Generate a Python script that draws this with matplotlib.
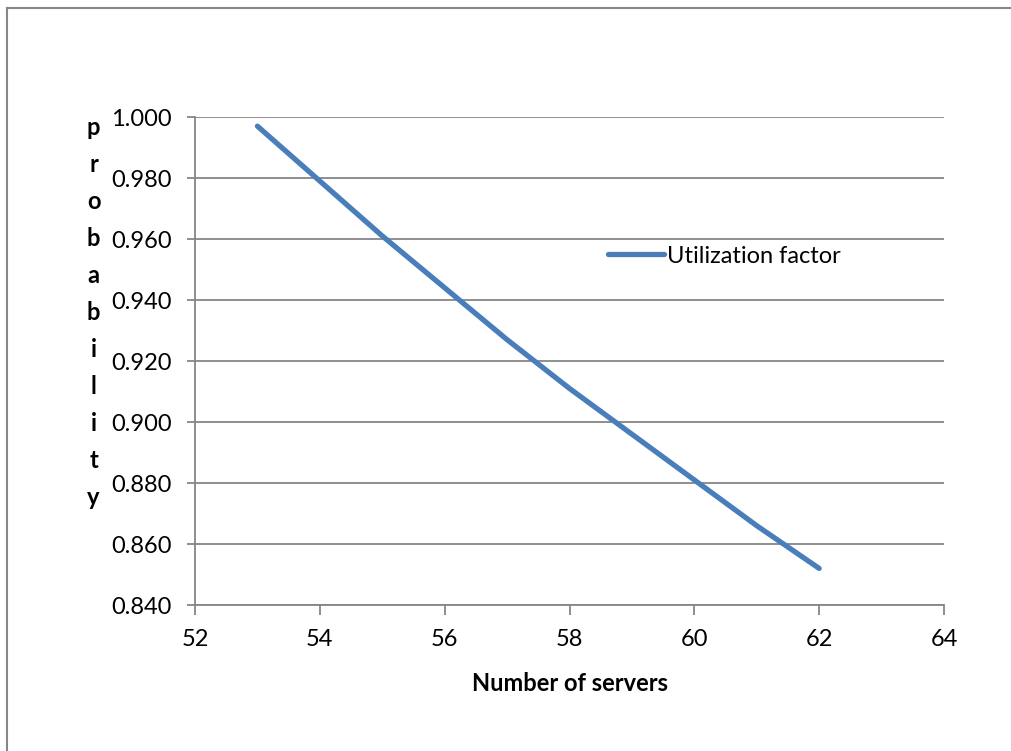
import matplotlib.pyplot as plt
from matplotlib.lines import Line2D
from matplotlib.ticker import FormatStrFormatter, MultipleLocator

# utilization factor vs number of servers
servers = [53, 54, 55, 56, 57, 58, 59, 60, 61, 62]
utilization = [0.997, 0.979, 0.961, 0.944, 0.927, 0.911, 0.896, 0.881, 0.866, 0.852]

x_ticks = [52, 54, 56, 58, 60, 62, 64]
series_name = 'Utilization factor'
x_title = 'Number of servers'
y_title = 'probability'

LINE_COLOR = '#4a7ebb'
GRID_COLOR = '#868686'
FS = 17

plt.rcParams['font.family'] = ['Lato', 'DejaVu Sans']

fig = plt.figure(figsize=(10.12, 7.51), dpi=100)
ax = fig.add_axes([0.1927, 0.1944, 0.7401, 0.6498])

ax.plot(servers, utilization, color=LINE_COLOR, lw=3.8,
        solid_capstyle='round', solid_joinstyle='round', label=series_name)

ax.set_xlim(52, 64)
ax.set_ylim(0.84, 1.0)
ax.set_xticks(x_ticks)
ax.yaxis.set_major_locator(MultipleLocator(0.02))
ax.yaxis.set_major_formatter(FormatStrFormatter('%.3f'))

ax.grid(axis='y', color=GRID_COLOR, lw=1.3)
ax.set_axisbelow(True)
for side in ('top', 'right'):
    ax.spines[side].set_visible(False)
for side in ('left', 'bottom'):
    ax.spines[side].set_color(GRID_COLOR)
    ax.spines[side].set_linewidth(1.3)

ax.tick_params(axis='both', colors=GRID_COLOR, labelcolor='black',
               labelsize=FS, width=1.3)
ax.tick_params(axis='x', length=7, pad=10)
ax.tick_params(axis='y', length=6, pad=11)

ax.set_xlabel(x_title, fontsize=FS, fontweight='bold', labelpad=16)

# stacked vertical letters for the y title
fig.text(0.0925, 0.584, '\n'.join(y_title), ha='center', va='center',
         fontsize=FS, fontweight='bold', linespacing=1.74)

ax.legend(loc='center left', bbox_to_anchor=(0.551, 0.715), frameon=False,
          fontsize=FS, handlelength=2.4, handletextpad=0.1,
          borderpad=0, borderaxespad=0)

# chart frame, only the left and top edges fall inside the image
fig.add_artist(Line2D([0.0074, 0.0074], [0, 0.9893], color='#878787', lw=1.5,
                      transform=fig.transFigure))
fig.add_artist(Line2D([0.0074, 1], [0.9893, 0.9893], color='#878787', lw=1.5,
                      transform=fig.transFigure))

fig.savefig('out.png', dpi=100)
